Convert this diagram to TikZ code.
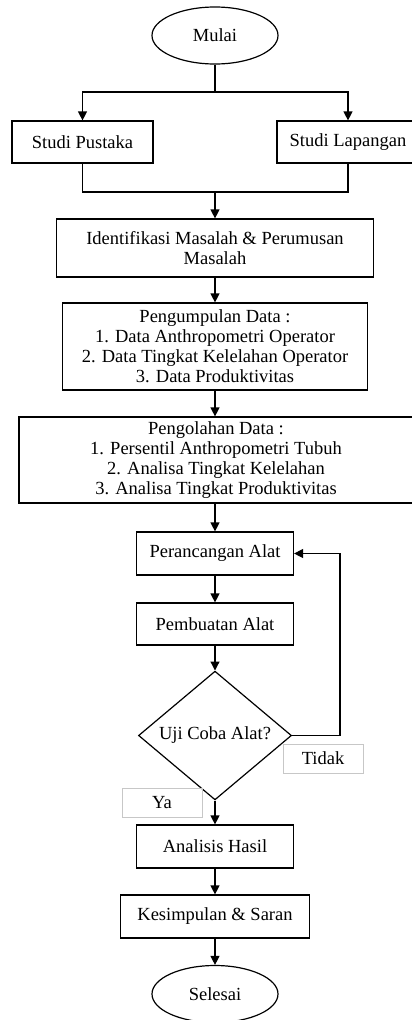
\documentclass[tikz,border=0pt]{standalone}
\usepackage{fontspec}
\setmainfont{Liberation Serif}
\usetikzlibrary{shapes.geometric, arrows.meta}
\tikzset{
    every node/.style={font=\fontsize{18.5}{20}\selectfont, align=center,
    	inner sep=0pt},
    kotak/.style={rectangle, draw, line width=1.2pt},
    terminal/.style={ellipse, draw, line width=1.2pt, minimum width=126,
    	minimum height=57},
    keputusan/.style={diamond, draw, line width=1.2pt, minimum width=153,
    	minimum height=125},
    catatan/.style={rectangle, draw=black!22, line width=1pt,
    	minimum width=80, minimum height=29},
    panah/.style={-{Triangle[width=9pt, length=9pt]}, line width=1.2pt}
}

\begin{document}
\begin{tikzpicture}[x=1pt, y=-1pt]
	\useasboundingbox (0,0) rectangle (412,1020);
	\clip (0,0) rectangle (412,1020);
	\node (mulai) [terminal] at (215, 35.5) {Mulai};
	\node (pustaka) [kotak, minimum width=141, minimum height=42] at (82.5, 142) {Studi Pustaka};
	\node (lapangan) [kotak, minimum width=142, minimum height=42] at (348, 142) {Studi Lapangan};
	\node (identifikasi) [kotak, minimum width=317, minimum height=58] at (215, 248) {Identifikasi Masalah \& Perumusan\\Masalah};
	\node (pengumpulan) [kotak, minimum width=305, minimum height=87] at (215, 346.5) {Pengumpulan Data :\\1. Data Anthropometri Operator\\2. Data Tingkat Kelelahan Operator\\3. Data Produktivitas};
	\node (pengolahan) [kotak, minimum width=394, minimum height=86] at (216, 460) {Pengolahan Data :\\1. Persentil Anthropometri Tubuh\\2. Analisa Tingkat Kelelahan\\3. Analisa Tingkat Produktivitas};
	\node (perancangan) [kotak, minimum width=157, minimum height=43] at (215, 553.5) {Perancangan Alat};
	\node (pembuatan) [kotak, minimum width=157, minimum height=42] at (215, 624) {Pembuatan Alat};
	\node (uji) [keputusan] at (215, 735.5) {Uji Coba Alat?};
	\node (tidak) [catatan] at (323, 758.5) {Tidak};
	\node (ya) [catatan] at (162, 802.5) {Ya};
	\node (analisis) [kotak, minimum width=157, minimum height=43] at (215, 846.5) {Analisis Hasil};
	\node (kesimpulan) [kotak, minimum width=189, minimum height=43] at (215, 916.5) {Kesimpulan \& Saran};
	\node (selesai) [terminal] at (215, 994) {Selesai};
	\coordinate (cabang) at (215, 92);
	\coordinate (gabung) at (215, 192);
	\coordinate (balik) at (340, 735.5);

	\draw [line width=1.2pt] (mulai) -- (cabang);
	\draw [panah] (cabang) -| (pustaka); \draw [panah] (cabang) -| (lapangan);
	\draw [line width=1.2pt] (pustaka) |- (gabung); \draw [line width=1.2pt] (lapangan) |- (gabung);
	\draw [panah] (gabung) -- (identifikasi);
	\draw [panah] (identifikasi) -- (pengumpulan);
	\draw [panah] (pengumpulan) -- (pengumpulan |- pengolahan.north);
	\draw [panah] (pengolahan.south -| perancangan) -- (perancangan);
	\draw [panah] (perancangan) -- (pembuatan);
	\draw [panah] (pembuatan) -- (uji);
	\draw [panah] (uji.east) -- (balik) |- (perancangan.east);
	\draw [panah] (uji) -- (analisis);
	\draw [panah] (analisis) -- (kesimpulan);
	\draw [panah] (kesimpulan) -- (selesai);
\end{tikzpicture}
\end{document}
